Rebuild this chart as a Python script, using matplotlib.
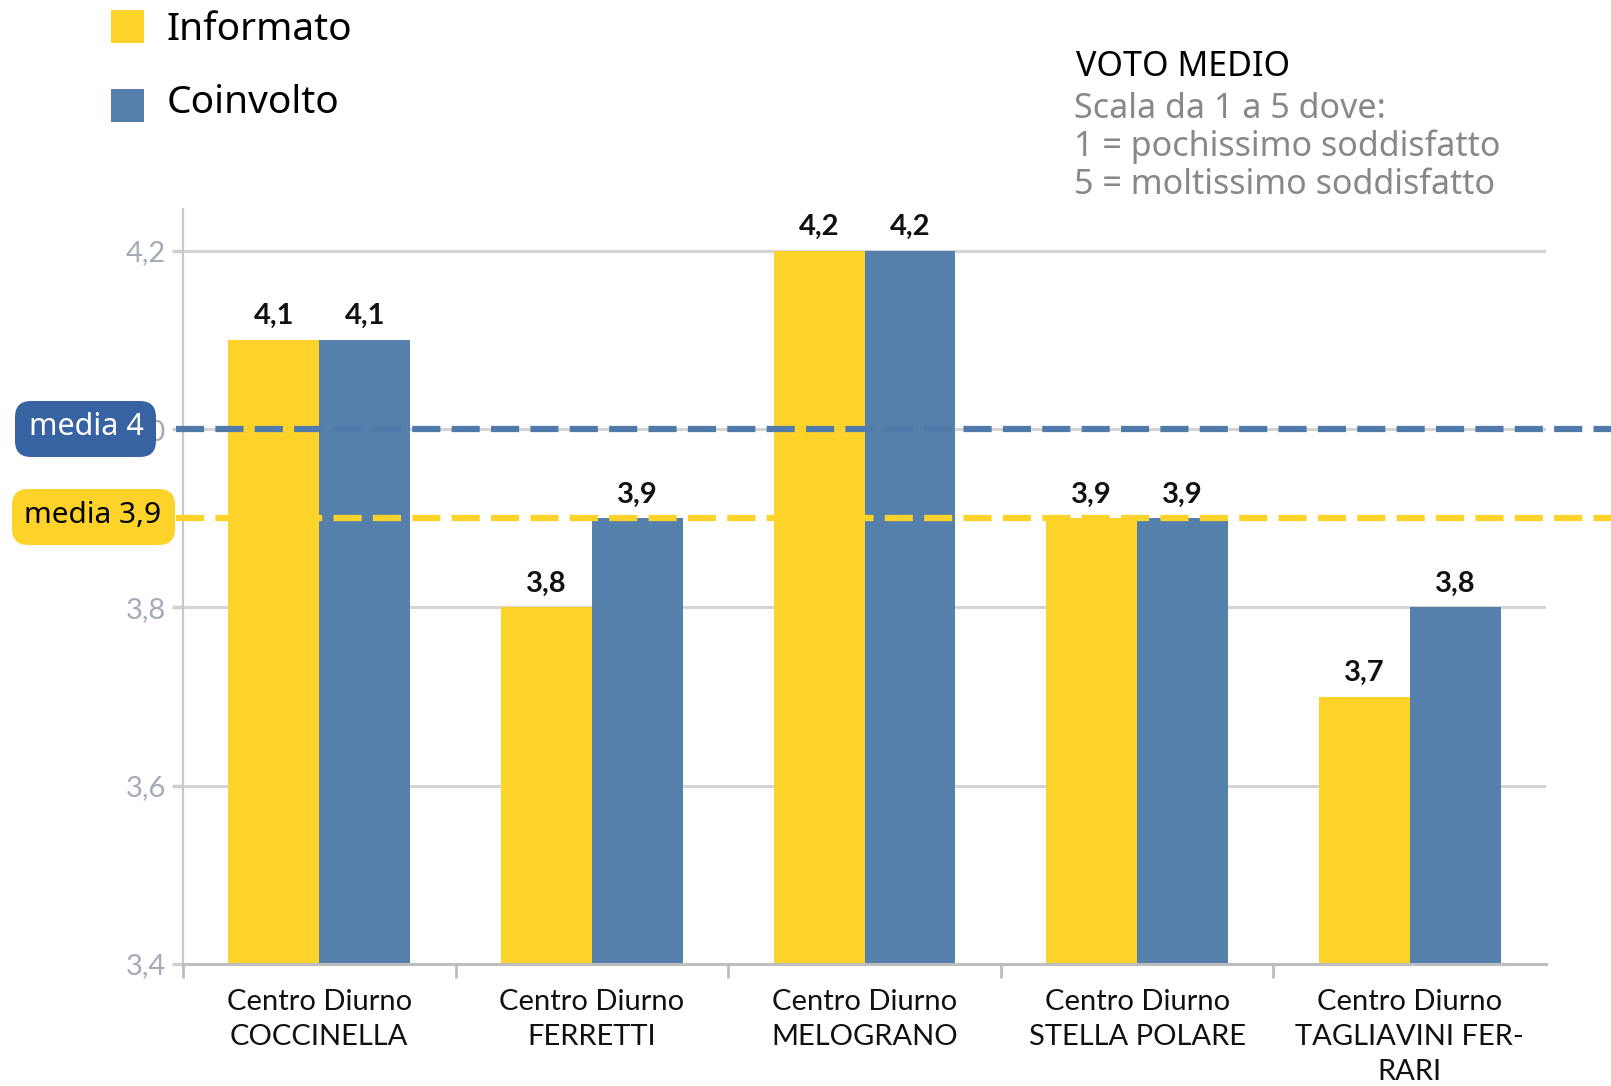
import matplotlib.pyplot as plt
import numpy as np
from matplotlib import font_manager
from matplotlib.patches import FancyBboxPatch, Rectangle

categories = ["Centro Diurno\nCOCCINELLA", "Centro Diurno\nFERRETTI", "Centro Diurno\nMELOGRANO",
              "Centro Diurno\nSTELLA POLARE", "Centro Diurno\nTAGLIAVINI FER-\nRARI"]
informato = [4.1, 3.8, 4.2, 3.9, 3.7]
coinvolto = [4.1, 3.9, 4.2, 3.9, 3.8]
media_coinvolto = 4.0
media_informato = 3.9
yticks = [3.4, 3.6, 3.8, 4.0, 4.2]

YELLOW = "#FDD329"
BLUE = "#5580AB"
W, H = 1611, 1086

installed = {f.name for f in font_manager.fontManager.ttflist}
NARROW = "Liberation Sans Narrow" if "Liberation Sans Narrow" in installed else "Lato"


def fx(x):
    return x / W


def fy(y):
    return 1 - y / H


def fmt(v):
    return f"{v:.1f}".replace(".", ",")


fig = plt.figure(figsize=(W / 100, H / 100), dpi=100)
ax = fig.add_axes([fx(183), fy(964), fx(1546) - fx(183), fy(209) - fy(964)])

x = np.arange(len(categories))
bw = 1 / 3
ax.bar(x - bw / 2, informato, bw, color=YELLOW, zorder=3)
ax.bar(x + bw / 2, coinvolto, bw, color=BLUE, zorder=3)
ax.set_xlim(-0.5, 4.5)
ax.set_ylim(3.4, 4.247)

lab = dict(family=NARROW, fontsize=21, fontweight="bold", color="#111111",
           ha="center", va="bottom", zorder=5)
for i in range(len(categories)):
    ax.text(x[i] - bw / 2, informato[i] + 0.012, fmt(informato[i]), **lab)
    ax.text(x[i] + bw / 2, coinvolto[i] + 0.012, fmt(coinvolto[i]), **lab)

ax.set_yticks(yticks)
ax.set_yticklabels([fmt(v) for v in yticks], family=NARROW, fontsize=21, color="#A3ABB8")
ax.set_xticks(x)
ax.set_xticklabels(categories, family=NARROW, fontsize=21, color="#111111", linespacing=1.42)
ax.set_xticks(np.arange(-0.5, 4.0, 1.0), minor=True)
ax.tick_params(axis="x", which="major", length=0, pad=18)
ax.tick_params(axis="x", which="minor", length=10, width=2, color="#BDBDBD", direction="out")
ax.tick_params(axis="y", length=8, width=2.5, color="#D0D0D0", pad=4)

for v in yticks[1:]:
    ax.axhline(v, color="#D4D4D4", lw=2.2, zorder=1)

for s in ["top", "right"]:
    ax.spines[s].set_visible(False)
ax.spines["left"].set_color("#C8C8C8")
ax.spines["left"].set_linewidth(1.6)
ax.spines["bottom"].set_color("#BDBDBD")
ax.spines["bottom"].set_linewidth(2.2)
ax.spines["bottom"].set_zorder(4)

# dashed average lines running off to the right edge
ax.axhline(media_coinvolto, xmin=-0.005, xmax=1.06, color="#4F7AAA", lw=4.5,
           dashes=(4.5, 1.8), clip_on=False, zorder=6)
ax.axhline(media_informato, xmin=-0.005, xmax=1.06, color=YELLOW, lw=4.5,
           dashes=(4.5, 1.8), clip_on=False, zorder=6)

# media boxes
fig.patches.append(FancyBboxPatch((fx(15), fy(457)), fx(156) - fx(15), fy(401) - fy(457),
                                  boxstyle="round,pad=0,rounding_size=0.01", fc="#3763A3", ec="none",
                                  transform=fig.transFigure, zorder=10, mutation_aspect=W / H))
fig.text(fx(86), fy(427), "media 4", color="white", fontsize=22, family="Noto Sans",
         ha="center", va="center", zorder=11)
fig.patches.append(FancyBboxPatch((fx(12), fy(545)), fx(175) - fx(12), fy(489) - fy(545),
                                  boxstyle="round,pad=0,rounding_size=0.01", fc=YELLOW, ec="none",
                                  transform=fig.transFigure, zorder=10, mutation_aspect=W / H))
fig.text(fx(93), fy(515), "media 3,9", color="black", fontsize=21.5, family="Noto Sans",
         ha="center", va="center", zorder=11)

# legend
fig.patches.append(Rectangle((fx(111), fy(43)), fx(144) - fx(111), fy(10) - fy(43),
                             fc=YELLOW, ec="none", transform=fig.transFigure))
fig.patches.append(Rectangle((fx(111), fy(122)), fx(144) - fx(111), fy(89) - fy(122),
                             fc=BLUE, ec="none", transform=fig.transFigure))
fig.text(fx(167), fy(30), "Informato", fontsize=28, family="Noto Sans", va="center", ha="left")
fig.text(fx(167), fy(103), "Coinvolto", fontsize=28, family="Noto Sans", va="center", ha="left")

# note
fig.text(fx(1076), fy(67), "VOTO MEDIO", fontsize=24.5, family="Noto Sans", va="center", ha="left")
for yy, t in zip([109, 147, 185], ["Scala da 1 a 5 dove:", "1 = pochissimo soddisfatto",
                                    "5 = moltissimo soddisfatto"]):
    fig.text(fx(1074), fy(yy), t, fontsize=24.5, family="Noto Sans", color="#8C8787",
             va="center", ha="left")

fig.savefig("out.png", dpi=100)
